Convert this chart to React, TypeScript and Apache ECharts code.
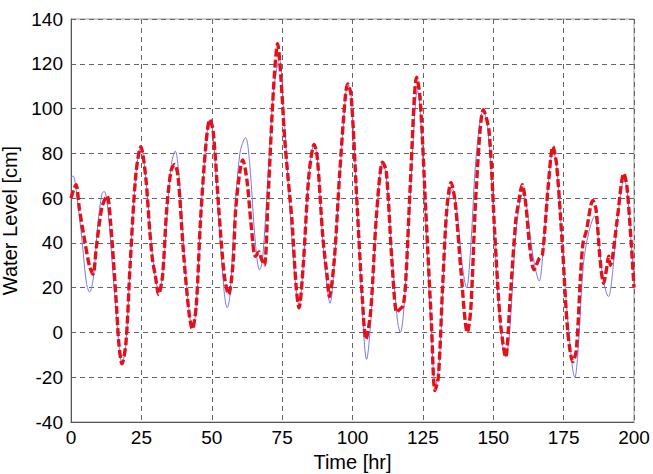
import React, { useEffect, useRef } from "react";
import * as echarts from "echarts";

const xTicks = [0, 25, 50, 75, 100, 125, 150, 175, 200];
const yTicks = [-40, -20, 0, 20, 40, 60, 80, 100, 120, 140];

// Observed (thin blue line): [time hr, level cm]
const observed: [number, number][] = [
  [0, 69], [0.7, 70], [2, 62], [4, 40], [5.5, 22], [6.6, 18], [8, 25], [9.5, 48], [11, 62], [11.8, 63],
  [13, 56], [15, 25], [17, -5], [18.1, -14], [19.5, -5], [21, 30], [23, 70], [24.8, 83], [26.5, 70], [28.5, 40],
  [30, 24], [31.2, 19], [32.5, 25], [34, 50], [35.5, 74], [37, 81], [38.5, 68], [40.5, 30], [42.5, 4], [43.3, 3],
  [44.5, 12], [46, 50], [48, 85], [49.3, 95], [50.5, 88], [52.5, 50], [54.5, 17], [55.5, 11], [56.5, 17], [58, 50],
  [60, 80], [62, 87], [63.5, 75], [65.5, 40], [67, 28], [68, 32], [70, 70], [72, 108], [74, 122], [75.5, 100],
  [77.5, 60], [79.5, 25], [81, 12], [82.5, 30], [84.5, 70], [86.4, 84], [87.5, 78], [89.5, 40], [91, 20], [92, 13],
  [93.5, 30], [95.5, 70], [97.5, 105], [98.3, 111], [99.5, 106], [101.5, 60], [103.5, 10], [105, -12], [106.5, 5], [108.5, 50],
  [110.7, 76], [112, 70], [114, 35], [116, 5], [117, 0], [118.5, 15], [120.5, 60], [122, 95], [123, 108], [124, 100],
  [126, 50], [128, 0], [129.5, -24], [131, -10], [132.5, 30], [134, 58], [135.5, 64], [137, 55], [139, 30], [140.5, 20],
  [142, 38], [144, 80], [146.5, 99], [148, 92], [150, 55], [152, 10], [154.4, -11], [155.8, 0], [157.5, 35], [159, 55],
  [160.5, 62], [162, 55], [164, 35], [166.3, 23], [168, 42], [170, 72], [171.2, 81], [172.5, 75], [174.5, 40], [176.5, 5],
  [179, -20], [180.3, -5], [182, 30], [184, 45], [186, 52], [187.5, 40], [189, 24], [190.9, 16], [192.5, 28], [194.5, 55],
  [196.5, 68], [197.5, 64], [199, 40], [200, 22],
];

// Predicted (thick red dashed line): [time hr, level cm]
const predicted: [number, number][] = [
  [0, 60], [1, 64], [1.8, 66], [3, 55], [5, 40], [6.5, 30], [7.8, 26], [9, 38], [11, 56], [12.8, 61],
  [14, 50], [16, 15], [17, -5], [18.1, -14], [19.5, -5], [21, 30], [23, 70], [24.8, 83], [26.5, 70], [28, 45],
  [29, 32], [30, 25], [31.1, 17], [32.5, 25], [34, 55], [35.5, 72], [36.8, 75], [38, 70], [40, 35], [42, 8],
  [43.1, 1.5], [44.5, 12], [46, 50], [48, 85], [49.3, 95], [50.5, 90], [52.5, 55], [54.5, 25], [56, 17], [57.5, 30],
  [58.5, 55], [60, 72], [61, 77], [62.5, 68], [64, 48], [65.5, 34], [66.8, 36], [67.6, 33], [68.7, 30], [70, 60],
  [72, 110], [73.4, 129], [74.5, 115], [76, 85], [77.7, 61], [78.5, 50], [80, 20], [81, 11], [82.5, 30], [84.5, 70],
  [86.4, 84], [87.5, 78], [89.5, 42], [91, 25], [91.8, 16], [93.5, 32], [95.5, 72], [97.5, 106], [98.3, 111], [99.5, 106],
  [101.5, 60], [103.5, 15], [104.8, -3], [106.5, 10], [108.5, 52], [110.7, 76], [112, 72], [114, 32], [115.7, 9], [116.5, 10],
  [118, 12], [119, 25], [120.5, 65], [122.8, 114], [124, 105], [126, 55], [128, 5], [129.3, -26], [130.5, -20], [132, 20],
  [133.5, 55], [135, 67], [136.5, 58], [138.5, 28], [140.8, 0], [142, 10], [144, 65], [146.5, 99.5], [148.5, 90], [150.5, 45],
  [152.5, 5], [154.4, -11], [156, 15], [158, 50], [159, 58], [160.3, 66], [161.5, 58], [163, 38], [164.5, 28], [166.3, 33],
  [167.5, 35], [169.5, 65], [171.2, 83], [172.5, 75], [174.5, 40], [176.5, 0], [178.3, -13], [179.5, -8], [181, 25], [181.9, 40],
  [183, 45], [185.4, 59], [186.5, 55], [188, 32], [189.2, 22], [190.2, 28], [191, 34], [191.6, 30], [192.3, 33], [194, 50],
  [196.4, 71], [197.5, 65], [199, 40], [200, 20],
];

export default function App() {
  const ref = useRef<HTMLDivElement>(null);
  useEffect(() => {
    if (!ref.current) return;
    const chart = echarts.init(ref.current, null, { renderer: "svg" });
    const font = "'Liberation Sans', Arial, sans-serif";
    chart.setOption({
      animation: false,
      backgroundColor: "#ffffff",
      grid: {
        left: 71,
        right: 19,
        top: 19,
        bottom: 52,
        show: true,
        borderColor: "#9a9a9a",
        borderWidth: 1,
        containLabel: false,
        outerBoundsMode: "none",
      },
      xAxis: {
        type: "value",
        min: xTicks[0],
        max: xTicks[xTicks.length - 1],
        interval: 25,
        name: "Time [hr]",
        nameLocation: "middle",
        nameGap: 29,
        nameTextStyle: { fontFamily: font, fontSize: 20, color: "#000" },
        axisLine: { show: true, onZero: false, lineStyle: { color: "#555", width: 1 } },
        axisTick: { show: false },
        axisLabel: { fontFamily: font, fontSize: 19, color: "#000", margin: 6 },
        splitLine: { show: true, lineStyle: { color: "#666", type: [5, 4], width: 1 } },
      },
      yAxis: {
        type: "value",
        min: yTicks[0],
        max: yTicks[yTicks.length - 1],
        interval: 20,
        name: "Water Level [cm]",
        nameLocation: "middle",
        nameGap: 48,
        nameTextStyle: { fontFamily: font, fontSize: 20, color: "#000" },
        axisLine: { show: true, lineStyle: { color: "#555", width: 1 } },
        axisTick: { show: false },
        axisLabel: { fontFamily: font, fontSize: 19, color: "#000", margin: 8 },
        splitLine: { show: true, lineStyle: { color: "#666", type: [5, 4], width: 1 } },
      },
      series: [
        {
          type: "line",
          name: "Observed",
          data: observed,
          showSymbol: false,
          smooth: 0.35,
          lineStyle: { color: "#7878ee", width: 1 },
          z: 2,
        },
        {
          type: "line",
          name: "Predicted",
          data: predicted,
          showSymbol: false,
          smooth: 0.3,
          lineStyle: { color: "#e3121a", width: 3.4, type: [8, 3] },
          z: 3,
        },
      ],
    });
    return () => chart.dispose();
  }, []);
  return (
    <div
      ref={ref}
      style={{ position: "fixed", left: 0, top: 0, width: 653, height: 474, background: "#fff" }}
    />
  );
}
